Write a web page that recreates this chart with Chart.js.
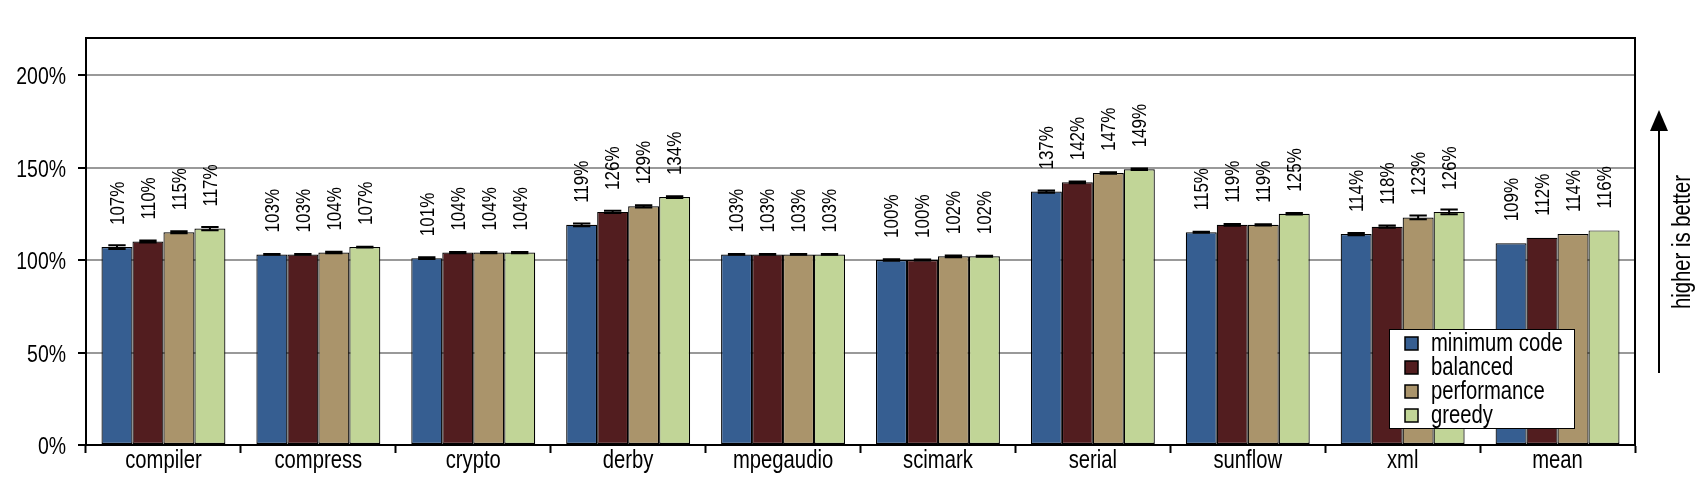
<!DOCTYPE html>
<html>
<head>
<meta charset="utf-8">
<script src="https://cdn.jsdelivr.net/npm/chart.js@4/dist/chart.umd.min.js"></script>
<style>
html, body { margin: 0; padding: 0; background: #fff; }
</style>
</head>
<body>
<canvas id="myChart" width="1706" height="495"></canvas>
<script>
// benchmark categories
var benchmarks = ['compiler', 'compress', 'crypto', 'derby', 'mpegaudio', 'scimark', 'serial', 'sunflow', 'xml', 'mean'];

// speedup in % per configuration
var minimumCode = [107, 103, 101, 119, 103, 100, 137, 115, 114, 109];
var balanced    = [110, 103, 104, 126, 103, 100, 142, 119, 118, 112];
var performance = [115, 104, 104, 129, 103, 102, 147, 119, 123, 114];
var greedy      = [117, 107, 104, 134, 103, 102, 149, 125, 126, 116];

// error (+/- %) per configuration, mean has none
var errMinimumCode = [1.0, 0.2, 0.45, 0.7, 0.2, 0.4, 0.6, 0.3, 0.6, 0];
var errBalanced    = [0.6, 0.2, 0.3, 0.6, 0.2, 0.3, 0.45, 0.45, 0.6, 0];
var errPerformance = [0.6, 0.4, 0.3, 0.6, 0.2, 0.5, 0.4, 0.3, 1.0, 0];
var errGreedy      = [0.9, 0.2, 0.3, 0.45, 0.2, 0.3, 0.4, 0.4, 1.3, 0];

var yTicks = [0, 50, 100, 150, 200];

var FONT = "'Liberation Sans', Arial, sans-serif";
var NARROW = 0.81; // squeeze text, the original uses a narrow font

// draw squeezed text, optionally rotated
function narrowText(ctx, text, x, y, size, align, baseline, angle) {
  ctx.save();
  ctx.translate(x, y);
  if (angle) ctx.rotate(angle);
  ctx.scale(NARROW, 1);
  ctx.font = size + 'px ' + FONT;
  ctx.fillStyle = '#000';
  ctx.textAlign = align;
  ctx.textBaseline = baseline;
  ctx.fillText(text, 0, 0);
  ctx.restore();
}

var extras = {
  id: 'extras',
  afterDatasetsDraw: function(chart) {
    var ctx = chart.ctx;
    var y = chart.scales.y;
    chart.data.datasets.forEach(function(ds, i) {
      var meta = chart.getDatasetMeta(i);
      meta.data.forEach(function(bar, j) {
        var v = ds.data[j];
        var e = ds.errors[j];
        // error bar
        if (e > 0) {
          var half = bar.width * 0.28;
          var yt = y.getPixelForValue(v + e);
          var yb = y.getPixelForValue(v - e);
          ctx.save();
          ctx.strokeStyle = '#000';
          ctx.lineWidth = 2;
          ctx.beginPath();
          ctx.moveTo(bar.x - half, yt); ctx.lineTo(bar.x + half, yt);
          ctx.moveTo(bar.x - half, yb); ctx.lineTo(bar.x + half, yb);
          ctx.moveTo(bar.x, yt); ctx.lineTo(bar.x, yb);
          ctx.stroke();
          ctx.restore();
        }
        // value label
        narrowText(ctx, Math.round(v) + '%', bar.x + 1, y.getPixelForValue(v) - 22, 21, 'left', 'middle', -Math.PI / 2);
      });
    });
  },
  afterDraw: function(chart) {
    var ctx = chart.ctx;
    var a = chart.chartArea;
    var xs = chart.scales.x, ys = chart.scales.y;

    // tick labels
    xs.ticks.forEach(function(t, i) {
      narrowText(ctx, chart.data.labels[i], xs.getPixelForTick(i), a.bottom + 23, 25, 'center', 'alphabetic');
    });
    ys.ticks.forEach(function(t, i) {
      narrowText(ctx, t.value + '%', a.left - 20, ys.getPixelForValue(t.value) + 9, 24, 'right', 'alphabetic');
    });

    ctx.save();
    // frame
    ctx.strokeStyle = '#000';
    ctx.lineWidth = 2;
    ctx.strokeRect(a.left, a.top, a.right - a.left, a.bottom - a.top);

    // legend box
    var lx = 1389, ly = 329, lw = 185, lh = 99;
    ctx.fillStyle = '#fff';
    ctx.fillRect(lx, ly, lw, lh);
    ctx.lineWidth = 1;
    ctx.strokeRect(lx + 0.5, ly + 0.5, lw, lh);
    chart.data.datasets.forEach(function(ds, i) {
      var cy = ly + 14 + i * 24;
      ctx.fillStyle = ds.backgroundColor;
      ctx.fillRect(lx + 16, cy - 6, 13, 13);
      ctx.strokeStyle = '#000';
      ctx.lineWidth = 1.5;
      ctx.strokeRect(lx + 16, cy - 6, 13, 13);
      narrowText(ctx, ds.label, lx + 42, cy + 1, 25, 'left', 'middle');
    });

    // arrow "higher is better"
    ctx.strokeStyle = '#000';
    ctx.lineWidth = 2;
    ctx.beginPath();
    ctx.moveTo(1659, 373);
    ctx.lineTo(1659, 126);
    ctx.stroke();
    ctx.fillStyle = '#000';
    ctx.beginPath();
    ctx.moveTo(1659, 110);
    ctx.lineTo(1668, 131);
    ctx.lineTo(1650, 131);
    ctx.closePath();
    ctx.fill();
    ctx.restore();
    narrowText(ctx, 'higher is better', 1683, 242, 25, 'center', 'middle', -Math.PI / 2);
  }
};

var myChart = document.getElementById('myChart').getContext('2d');
var SpeedupChart = new Chart(myChart, {
  type: 'bar',
  data: {
    labels: benchmarks,
    datasets: [
      { label: 'minimum code', data: minimumCode, errors: errMinimumCode, backgroundColor: '#365E91' },
      { label: 'balanced', data: balanced, errors: errBalanced, backgroundColor: '#521D1F' },
      { label: 'performance', data: performance, errors: errPerformance, backgroundColor: '#AA946B' },
      { label: 'greedy', data: greedy, errors: errGreedy, backgroundColor: '#C1D597' }
    ]
  },
  options: {
    responsive: false,
    animation: false,
    layout: { padding: { left: 0, right: 71, top: 38, bottom: 0 } },
    datasets: {
      bar: {
        categoryPercentage: 0.8,
        barPercentage: 1.0,
        borderColor: '#000',
        borderWidth: 1.2,
        borderSkipped: false
      }
    },
    plugins: {
      legend: { display: false },
      tooltip: { enabled: false }
    },
    scales: {
      x: {
        grid: { drawOnChartArea: false, drawTicks: true, tickLength: 8, tickColor: '#000', tickWidth: 2, offset: true },
        border: { color: '#000', width: 2 },
        ticks: { display: false },
        afterFit: function(s) { s.height = 50; }
      },
      y: {
        min: 0,
        max: 220,
        afterBuildTicks: function(s) { s.ticks = yTicks.map(function(v) { return { value: v }; }); },
        grid: { color: '#999', lineWidth: 2, tickColor: '#000', tickLength: 8, tickWidth: 2 },
        border: { color: '#000', width: 2 },
        ticks: { display: false },
        afterFit: function(s) { s.width = 86; }
      }
    }
  },
  plugins: [extras]
});
</script>
</body>
</html>
